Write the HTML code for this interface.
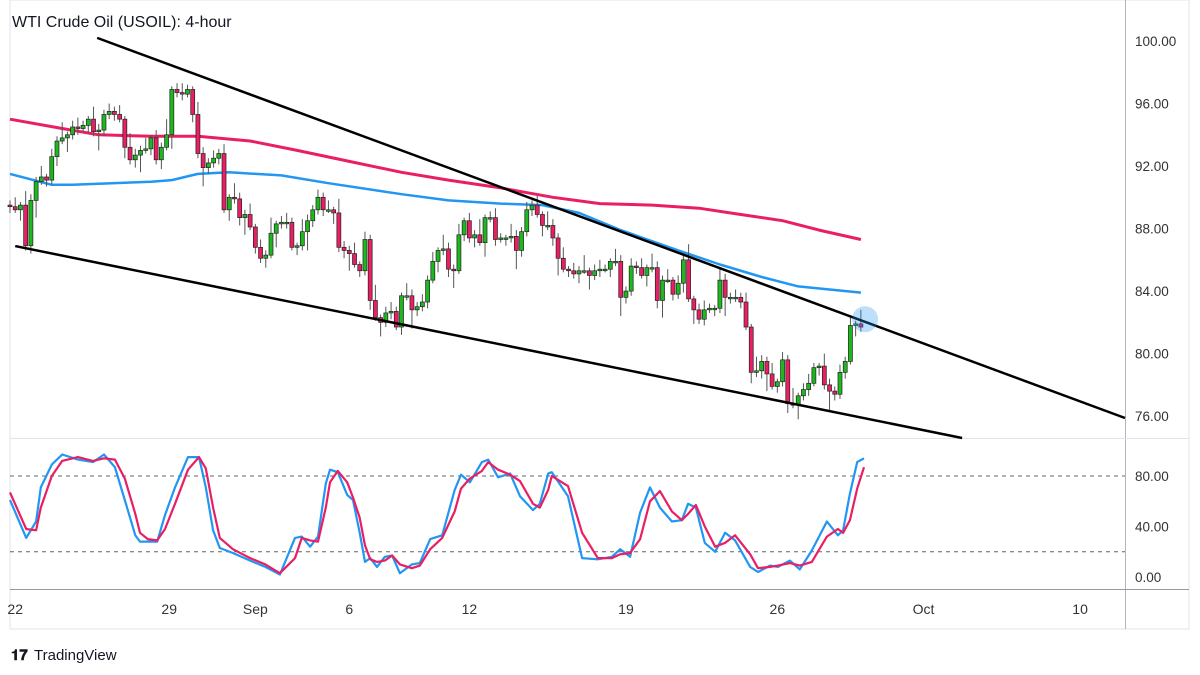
<!DOCTYPE html>
<html><head><meta charset="utf-8"><style>
html,body{margin:0;padding:0;background:#fff;}
svg{display:block;font-family:"Liberation Sans",sans-serif;}
</style></head><body>
<svg id="c" width="1200" height="675" viewBox="0 0 1200 675">
<rect x="10" y="0" width="1179" height="629" fill="#fff" stroke="#e0e3eb"/>
<text x="12" y="27" font-size="16" fill="#131722">WTI Crude Oil (USOIL): 4-hour</text>
<line x1="1125.5" y1="0" x2="1125.5" y2="629" stroke="#b2b5be"/>
<line x1="10" y1="438.5" x2="1189" y2="438.5" stroke="#e0e3eb"/>
<line x1="10" y1="589.5" x2="1189" y2="589.5" stroke="#9598a1"/>
<g id="main"></g>
<g id="stoch"></g>
<g id="axes"></g>
<g>
<text x="11" y="660" font-size="15" font-weight="bold" fill="#131722">𝟏𝟕</text>
<text x="34" y="660" font-size="15" fill="#131722">TradingView</text>
</g>
</svg>
<script>
const closes=[89.4,89.2,89.5,86.9,89.8,91.0,91.3,91.1,92.6,93.6,93.8,94.0,94.5,94.4,94.6,95.0,94.2,94.3,95.3,95.5,95.3,95.0,93.2,92.4,92.7,93.0,93.1,93.8,92.4,93.2,94.0,96.9,96.7,96.6,96.9,95.3,92.8,91.9,92.2,92.5,92.8,89.2,90.0,89.9,88.7,88.9,88.1,86.8,86.1,86.3,87.7,88.3,
88.4,88.4,86.8,86.9,87.8,88.5,89.2,90.0,89.2,89.2,89.0,86.8,86.6,86.4,85.7,85.3,87.3,83.4,82.3,82.0,82.6,82.7,81.7,83.7,83.7,82.8,83.0,83.3,84.7,85.9,86.6,86.7,85.4,85.3,87.6,88.5,87.4,87.6,87.1,88.7,88.7,87.3,87.4,87.4,87.5,86.6,87.8,89.2,89.5,88.9,88.2,88.2,87.4,86.1,85.4,
85.3,85.1,85.3,85.3,85.0,85.3,85.4,85.4,85.9,85.9,83.6,84.0,85.6,85.5,85.0,85.5,85.5,83.4,84.7,84.7,83.8,84.5,86.0,83.5,82.8,82.2,82.8,82.9,82.9,84.7,83.6,83.6,83.6,83.3,81.7,78.8,78.9,79.5,78.7,77.9,78.2,79.6,76.8,76.7,77.3,77.7,78.1,79.1,79.2,78.0,77.6,77.4,78.8,79.5,81.8,81.9,81.7];
const wickUp=[0.3,0.6,0.2,0.9,0.4,0.3,0.7,0.2,0.5,0.3,1.0,0.2,0.4,0.6,0.3,0.2,0.8,0.4,0.3,0.5];
const wickDn=[0.4,0.2,0.7,0.3,0.5,1.1,0.2,0.4,0.3,0.6,0.2,0.9,0.3,0.4,0.2,0.5,0.3,1.2,0.4,0.3];
const redMaIdx=[0,10,17,27,36,46,55,65,75,84,94,104,113,123,132,140,148,155,163];
const redMaVal=[95.0,94.4,94.0,93.9,93.9,93.6,93.0,92.3,91.6,91.1,90.6,90.0,89.6,89.5,89.3,88.9,88.5,87.9,87.3];
const blueMaIdx=[0,8,12,27,31,36,42,52,61,75,84,94,102,109,117,128,136,144,151,163];
const blueMaVal=[91.5,90.8,90.8,91.0,91.1,91.5,91.6,91.4,90.9,90.2,89.8,89.6,89.5,89.0,87.9,86.6,85.7,84.9,84.3,83.9];
const upperLine=[[16.7,100.2],[213.6,75.88]];
const lowerLine=[[1,86.88],[182.4,74.6]];
const stochIdx=[0,3.1,5,5.9,8,10,13,15.9,18,20.1,22,24,24.9,26.4,28.2,29.7,31.6,34.1,36.2,37.5,38.9,40.2,42.7,46,48.9,51.7,54.6,55.9,57.5,59,60.5,61.3,62.8,64.6,65.7,67,68,69,70.3,71.8,73.2,74.7,77,78.5,80.5,82.8,85.2,86.4,88.1,90.4,91.6,93.5,95.8,97.7,100.2,101.5,103.1,103.8,106.9,109.6,112.6,115.3,116.9,118.8,120.7,122.6,124.5,126.8,128.7,129.9,131.4,133.1,135.1,137,138.9,141.8,143.3,145.6,147.1,149.4,151.3,153.6,156.5,158.6,159.6,160.9,162.3,163.6];
const stochK=[61,31,44,71,89,97,93,91,97,87,61,33,28,28,28,49,71,95,95,71,37,23,19,13,8,2,31,32,24,32,74,85,83,65,61,35,12,15,8,16,17,3,10,11,30,33,69,81,75,91,93,79,82,64,53,58,82,83,64,15,14,16,22,16,51,71,55,44,45,58,55,27,20,35,29,8,4,9,8,13,6,21,44,33,37,66,91,94];
const stochD=[67,38,37,55,80,92,95,92,94,93,78,50,35,30,29,38,58,85,95,86,55,31,22,15,10,3,15,31,29,28,55,75,84,75,63,47,25,14,12,13,17,10,7,9,22,31,52,70,78,84,91,85,81,76,58,55,69,80,72,35,15,15,18,19,30,60,68,52,45,50,57,40,24,27,33,18,7,8,9,11,9,12,32,38,35,45,70,87];
const priceTicks=[100,96,92,88,84,80,76];
const stochTicks=[80,40,0];
const timeLabels=["22","29","Sep","6","12","19","26","Oct","10"];
const timeIdx=[1,30.5,47,65,88,118,147,175,205];

const NS="http://www.w3.org/2000/svg";
const X=i=>10+i*5.22;
const Y=p=>41+(100-p)*15.63;
const SY=v=>577-v*1.2625;
function mk(tag,attrs,parent){const e=document.createElementNS(NS,tag);for(const k in attrs)e.setAttribute(k,attrs[k]);parent.appendChild(e);return e;}
const main=document.getElementById('main'),st=document.getElementById('stoch'),ax=document.getElementById('axes');

function poly(idx,val,f,color,w,parent,name){
  const d=idx.map((i,k)=>(k?'L':'M')+X(i).toFixed(1)+','+f(val[k]).toFixed(1)).join(' ');
  const p=mk('path',{d:d,fill:'none',stroke:color,'stroke-width':w,'stroke-linejoin':'round'},parent);
  
  
}
poly(redMaIdx,redMaVal,Y,'#e91e63',3,main,'ma-200-line');
poly(blueMaIdx,blueMaVal,Y,'#2196f3',2.5,main,'ma-100-line');

for(let i=0;i<closes.length;i++){
  const c=closes[i],o=i?closes[i-1]:c+0.1;
  const hi=Math.max(o,c)+wickUp[i%wickUp.length],lo=Math.min(o,c)-wickDn[i%wickDn.length];
  const x=X(i);
  const g=mk('g',{},main);
  
  
  mk('line',{x1:x,x2:x,y1:Y(hi),y2:Y(lo),stroke:'#555','stroke-width':1},g);
  const top=Y(Math.max(o,c)),h=Math.max(1.5,Math.abs(Y(o)-Y(c)));
  mk('rect',{x:x-2,y:top,width:4,height:h,fill:c>=o?'#1db81d':'#e91e63',stroke:'#222','stroke-width':0.7},g);
}

function tl(pts,name){
  const l=mk('line',{x1:X(pts[0][0]),y1:Y(pts[0][1]),x2:X(pts[1][0]),y2:Y(pts[1][1]),stroke:'#000','stroke-width':2.5},main);
  
  
}
tl(upperLine,'upper-trendline');
tl(lowerLine,'lower-trendline');
const hl=mk('circle',{cx:X(163.8),cy:Y(82.2),r:13,fill:'rgba(33,150,243,0.3)'},main);



[80,20].forEach(v=>{
  const l=mk('line',{x1:10,x2:1125,y1:SY(v),y2:SY(v),stroke:'#666','stroke-dasharray':'4 4','stroke-width':1},st);
  
  
});
poly(stochIdx,stochK,SY,'#2196f3',2.2,st,'stoch-k-line');
poly(stochIdx,stochD,SY,'#e91e63',2.2,st,'stoch-d-line');

priceTicks.forEach(p=>{
  const t=mk('text',{x:1135,y:Y(p)+5,'font-size':13.5,fill:'#333'},ax);t.textContent=p.toFixed(2);
  
  
});
stochTicks.forEach(v=>{
  const t=mk('text',{x:1135,y:SY(v)+5,'font-size':13.5,fill:'#333'},ax);t.textContent=v.toFixed(2);
  
  
});
timeLabels.forEach((s,k)=>{
  const t=mk('text',{x:X(timeIdx[k]),y:614,'font-size':14,fill:'#333','text-anchor':'middle'},ax);t.textContent=s;
  
  
});
</script>
</body></html>
